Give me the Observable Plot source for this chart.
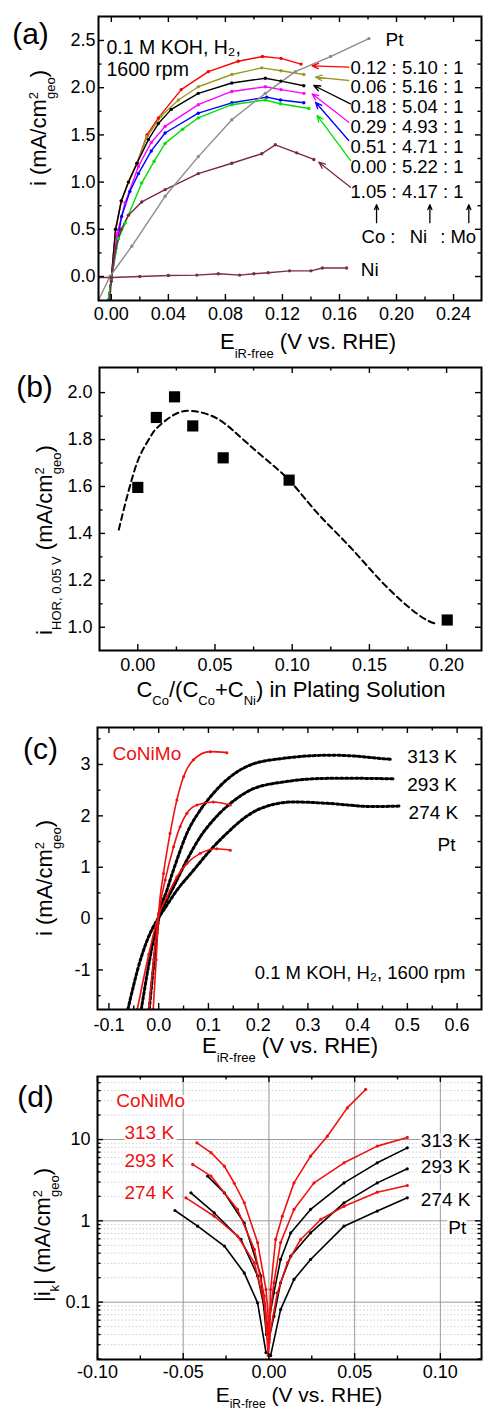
<!DOCTYPE html>
<html><head><meta charset="utf-8">
<script src="https://cdn.jsdelivr.net/npm/d3@7"></script>
<script src="https://cdn.jsdelivr.net/npm/@observablehq/plot@0.6"></script>
<style>
html,body{margin:0;padding:0;background:#fff;overflow:hidden;}
#wrap{width:483px;}
#wrap svg{display:block;overflow:visible;}
</style></head><body><div id="wrap"></div>
<script>
// ---------------- Panel (a) data ----------------
const aNames = ["0.12 : 5.10 : 1","0.06 : 5.16 : 1","0.18 : 5.04 : 1","0.29 : 4.93 : 1","0.51 : 4.71 : 1","0.00 : 5.22 : 1","1.05 : 4.17 : 1","Pt","Ni"];
const aColors = ["#ff0000","#9a9a22","#000000","#ff00ff","#0000ff","#00e000","#7a2a3e","#8c8c8c","#7b2d4a"];
const a_012 = [[-0.002,-0.25],[0.0,-0.02],[0.003,0.5],[0.007,0.8],[0.012,1.0],[0.018,1.2],[0.025,1.5],[0.033,1.68],[0.049,1.98],[0.068,2.17],[0.089,2.28],[0.106,2.33],[0.119,2.31],[0.133,2.25]];
const a_006 = [[-0.002,-0.25],[0.0,-0.02],[0.003,0.5],[0.007,0.8],[0.012,1.0],[0.018,1.2],[0.025,1.48],[0.035,1.7],[0.047,1.87],[0.061,2.01],[0.0845,2.14],[0.1055,2.21],[0.119,2.18],[0.135,2.14]];
const a_018 = [[-0.002,-0.25],[0.0,-0.02],[0.003,0.5],[0.007,0.8],[0.012,1.0],[0.018,1.2],[0.026,1.45],[0.033,1.62],[0.042,1.77],[0.061,1.94],[0.0845,2.05],[0.108,2.10],[0.119,2.07],[0.135,2.02]];
const a_029 = [[-0.002,-0.25],[0.0,-0.02],[0.004,0.45],[0.0096,0.78],[0.019,1.165],[0.028,1.42],[0.0377,1.59],[0.061,1.82],[0.0845,1.96],[0.108,2.01],[0.119,1.98],[0.135,1.94]];
const a_051 = [[-0.002,-0.25],[0.0,-0.02],[0.0072,0.636],[0.013,0.9],[0.019,1.09],[0.028,1.33],[0.0377,1.52],[0.061,1.73],[0.0845,1.84],[0.109,1.90],[0.1186,1.87],[0.135,1.84]];
const a_000 = [[-0.002,-0.25],[0.0,-0.02],[0.005,0.4],[0.0096,0.565],[0.0213,0.99],[0.03,1.22],[0.0377,1.41],[0.05,1.56],[0.061,1.68],[0.0845,1.82],[0.108,1.87],[0.1186,1.83],[0.1385,1.78]];
const a_105 = [[-0.001,-0.25],[0.0,-0.05],[0.003,0.3],[0.007,0.5],[0.012,0.65],[0.0213,0.79],[0.0377,0.92],[0.061,1.09],[0.0845,1.20],[0.1055,1.30],[0.115,1.395],[0.13,1.31],[0.142,1.24]];
const a_pt = [[-0.009,-0.25],[-0.001,0.0],[0.0143,0.32],[0.0377,0.85],[0.061,1.27],[0.0845,1.66],[0.108,1.94],[0.129,2.17],[0.1537,2.33],[0.1806,2.52]];
const a_ni = [[-0.009,-0.01],[0.0,-0.01],[0.02,0.0],[0.04,0.01],[0.06,0.015],[0.075,0.03],[0.09,0.015],[0.1,0.03],[0.11,0.04],[0.125,0.06],[0.14,0.06],[0.148,0.09],[0.165,0.09]];
const aCurves = [a_012,a_006,a_018,a_029,a_051,a_000,a_105,a_pt,a_ni];
const aLabelY = [2.21,2.005,1.793,1.58,1.37,1.158,0.893];
const aLabelX = 0.1677;
const aArrX1 = [0.1665,0.1665,0.1677,0.1665,0.1665,0.1677,0.1677];
const aArrY1 = [2.217,2.076,1.829,1.634,1.441,1.229,0.946];
const aArrX2 = [0.1408,0.1432,0.142,0.1408,0.1432,0.1443,0.1455];
const aArrY2 = [2.232,2.111,2.023,1.935,1.846,1.706,1.211];
const aElemX = [0.186,0.2234,0.2507];
const aElemText = ["Co :","Ni",": Mo"];
const aElemTextX = [0.1874,0.2154,0.2432];
const aXTicks = [0,0.04,0.08,0.12,0.16,0.20,0.24];
const aXMinor = [0.02,0.06,0.10,0.14,0.18,0.22];
const aYTicks = [0,0.5,1.0,1.5,2.0,2.5];
const aYMinor = [0.25,0.75,1.25,1.75,2.25];

// ---------------- Panel (b) data ----------------
const bX = [0,0.012,0.0238,0.0356,0.0553,0.098,0.2004];
const bY = [1.596,1.894,1.982,1.858,1.722,1.627,1.031];
const bFitX = [-0.0123,-0.008,-0.003,0.002,0.008,0.0125,0.0233,0.035,0.0492,0.062,0.0795,0.098,0.116,0.1378,0.1594,0.181,0.1928];
const bFitY = [1.416,1.53,1.65,1.74,1.81,1.85,1.905,1.922,1.897,1.837,1.735,1.627,1.489,1.34,1.184,1.057,1.015];
const bXTicks = [0,0.05,0.10,0.15,0.20];
const bXMinor = [0.025,0.075,0.125,0.175];
const bYTicks = [1.0,1.2,1.4,1.6,1.8,2.0];
const bYMinor = [1.1,1.3,1.5,1.7,1.9];

// ---------------- Panel (c) data ----------------
const cPt313 = [[-0.019,-1.77],[-0.01,-0.9],[0,0],[0.0165,0.55],[0.0366,1.14],[0.0567,1.66],[0.0835,2.11],[0.110,2.44],[0.144,2.76],[0.184,2.99],[0.251,3.12],[0.345,3.18],[0.385,3.17],[0.432,3.13],[0.466,3.1]];
const cPt293 = [[-0.035,-1.77],[-0.02,-0.9],[-0.008,-0.3],[0,0],[0.0097,0.23],[0.030,0.62],[0.0567,1.14],[0.0835,1.59],[0.110,1.92],[0.144,2.24],[0.184,2.50],[0.251,2.66],[0.345,2.73],[0.40,2.73],[0.472,2.72]];
const cPt274 = [[-0.062,-1.77],[-0.035,-0.75],[-0.0145,-0.23],[0,0.02],[0.0097,0.16],[0.0366,0.55],[0.070,0.94],[0.1036,1.33],[0.137,1.66],[0.171,1.95],[0.204,2.14],[0.271,2.27],[0.345,2.24],[0.43,2.18],[0.483,2.19]];
const cCo313 = [[-0.011,-1.77],[-0.005,-0.8],[0,0.1],[0.0097,0.88],[0.023,1.66],[0.0366,2.31],[0.050,2.76],[0.070,3.09],[0.1036,3.25],[0.137,3.23]];
const cCo293 = [[-0.02,-1.77],[-0.01,-0.8],[0,0.1],[0.013,0.75],[0.030,1.40],[0.043,1.79],[0.0567,2.05],[0.077,2.21],[0.110,2.27],[0.144,2.21]];
const cCo274 = [[-0.043,-1.77],[-0.02,-0.7],[0,0.07],[0.0165,0.42],[0.0366,0.81],[0.0567,1.07],[0.0835,1.27],[0.117,1.36],[0.144,1.33]];
const cLabels = ["313 K","293 K","274 K","Pt"];
const cLabelX = [0.5497,0.5497,0.5523,0.5785];
const cLabelY = [3.15,2.61,2.05,1.43];
const cXTicks = [-0.1,0,0.1,0.2,0.3,0.4,0.5,0.6];
const cXMinor = [-0.05,0.05,0.15,0.25,0.35,0.45,0.55];
const cYTicks = [-1,0,1,2,3];
const cYMinor = [-1.5,-0.5,0.5,1.5,2.5,3.5];

// ---------------- Panel (d) data ----------------
const dCo313 = [[-0.042,9.1],[-0.0338,6.9],[-0.026,4.7],[-0.0202,2.9],[-0.0144,1.67],[-0.0066,0.54],[-0.0017,0.143],[0.0002,0.046],[0.001,0.143],[0.0039,0.59],[0.0078,1.14],[0.0146,2.93],[0.0243,6.25],[0.0341,11],[0.0457,24.5],[0.0564,41.3]];
const dCo293 = [[-0.0445,4.94],[-0.0338,3.55],[-0.0183,1.38],[-0.0085,0.445],[-0.0027,0.119],[0.0,0.032],[0.001,0.081],[0.0029,0.173],[0.0068,0.54],[0.0146,1.38],[0.0263,2.93],[0.0438,5.17],[0.0632,8.3],[0.0807,10.6]];
const dCo274 = [[-0.0484,1.92],[-0.0319,1.14],[-0.0183,0.65],[-0.0085,0.304],[-0.0027,0.098],[-0.0004,0.022],[0.001,0.046],[0.0049,0.13],[0.0107,0.304],[0.0185,0.59],[0.0302,1.04],[0.0438,1.51],[0.0632,2.25],[0.0807,2.72]];
const dPt313 = [[-0.0358,3.55],[-0.026,2.21],[-0.0144,0.94],[-0.0047,0.21],[-0.0015,0.04],[0.0029,0.13],[0.0068,0.335],[0.0127,0.71],[0.0243,1.38],[0.0438,2.93],[0.0632,5.17],[0.0807,7.9]];
const dPt293 = [[-0.0455,2.21],[-0.0319,1.25],[-0.0163,0.59],[-0.0066,0.21],[-0.0017,0.067],[0.0,0.035],[0.0029,0.067],[0.0068,0.173],[0.0127,0.368],[0.0243,0.71],[0.0438,1.66],[0.0632,2.93],[0.0807,4.36]];
const dPt274 = [[-0.0548,1.34],[-0.0416,0.86],[-0.026,0.49],[-0.0144,0.229],[-0.0066,0.098],[-0.0017,0.024],[0.001,0.022],[0.0068,0.081],[0.0146,0.19],[0.0243,0.335],[0.0438,0.86],[0.0632,1.32],[0.0807,1.92]];
const dRedLabels = ["CoNiMo","313 K","293 K","274 K"];
const dRedX = [-0.069,-0.0698,-0.0698,-0.0698];
const dRedY = [29.7,12.1,5.42,2.21];
const dBlackLabels = ["313 K","293 K","274 K","Pt"];
const dBlackX = [0.1031,0.1031,0.1031,0.1099];
const dBlackY = [9.56,4.61,1.83,0.82];
const dXTicks = [-0.10,-0.05,0,0.05,0.10];
const dXMinor = [-0.075,-0.025,0.025,0.075];
const dYTicks = [0.1,1,10];
const dYMinor = [0.02,0.03,0.04,0.05,0.06,0.07,0.08,0.09,0.2,0.3,0.4,0.5,0.6,0.7,0.8,0.9,2,3,4,5,6,7,8,9,20,30,40,50];

// ---------------- helpers ----------------
const FONT = "'Liberation Sans', Arial, Helvetica, sans-serif";
const W = 483;
const RED = "#ee1111";
const wrap = document.getElementById("wrap");
const style = () => ({fontFamily: FONT, fontSize: "18px", overflow: "visible", background: "transparent", color: "black"});
const rows = (curves, names) => curves.flatMap((c, k) => c.map(([x, y]) => ({name: names[k], x, y})));

function frameTicks(xMaj, xMin, yMaj, yMin, fw, fh) {
  const L = 6, l = 3.5, sw = 1.4;
  return [
    Plot.tickX(xMaj, {x: d => d, insetTop: fh - L, strokeWidth: sw}),
    Plot.tickX(xMaj, {x: d => d, insetBottom: fh - L, strokeWidth: sw}),
    Plot.tickX(xMin, {x: d => d, insetTop: fh - l, strokeWidth: sw}),
    Plot.tickX(xMin, {x: d => d, insetBottom: fh - l, strokeWidth: sw}),
    Plot.tickY(yMaj, {y: d => d, insetRight: fw - L, strokeWidth: sw}),
    Plot.tickY(yMaj, {y: d => d, insetLeft: fw - L, strokeWidth: sw}),
    Plot.tickY(yMin, {y: d => d, insetRight: fw - l, strokeWidth: sw}),
    Plot.tickY(yMin, {y: d => d, insetLeft: fw - l, strokeWidth: sw})
  ];
}
function panelLetter(t, dx, dy) {
  return Plot.text([t], {frameAnchor: "top-left", dx, dy, fontSize: 30, textAnchor: "middle"});
}
function rich(svg, x, y, parts, rotate, size = 22, subShift = 0.4) {
  const t = d3.select(svg).append("text")
    .attr("transform", `translate(${x},${y})` + (rotate ? " rotate(-90)" : ""))
    .attr("text-anchor", "middle").attr("font-family", FONT)
    .attr("font-size", size).attr("fill", "black").style("white-space", "pre");
  let cur = 0;
  for (const [s, kind, dx] of parts) {
    const fs = kind ? Math.round(size * 0.57) : size;
    const target = kind === "sub" ? size * subShift : kind === "sup" ? -size * 0.36 : 0;
    const ts = t.append("tspan").attr("font-size", fs).attr("dy", target - cur).text(s);
    if (dx) ts.attr("dx", dx);
    cur = target;
  }
}
const geoParts = [["2", "sup"], ["geo", "sub", -7], [")"]];

// ---------------- Panel (a) ----------------
{
  const mL = 98, mR = 2, mT = 16, mB = 50, H = 350;
  const fw = W - mL - mR, fh = H - mT - mB;
  const data = rows(aCurves, aNames);
  const arrows = aArrX1.map((x1, k) => ({x1, y1: aArrY1[k], x2: aArrX2[k], y2: aArrY2[k], name: aNames[k]}));
  const labels = aLabelY.map((y, k) => ({y, t: aNames[k]}));
  const svg = Plot.plot({
    width: W, height: H, marginLeft: mL, marginRight: mR, marginTop: mT, marginBottom: mB,
    style: style(),
    x: {domain: [-0.009, 0.2596], ticks: aXTicks, tickFormat: d => d.toFixed(2), tickSize: 0, tickPadding: 7, label: null},
    y: {domain: [-0.254, 2.754], ticks: aYTicks, tickFormat: d => d.toFixed(1), tickSize: 0, tickPadding: 3, label: null},
    color: {domain: aNames, range: aColors},
    marks: [
      Plot.line(data, {x: "x", y: "y", z: "name", stroke: "name", strokeWidth: 1.4, clip: true}),
      Plot.dot(data, {x: "x", y: "y", fill: "name", r: 1.7, clip: true}),
      Plot.arrow(arrows, {x1: "x1", y1: "y1", x2: "x2", y2: "y2", stroke: "name", strokeWidth: 1.3, headLength: 8, headAngle: 45}),
      Plot.text(labels, {x: () => aLabelX, y: "y", text: "t", textAnchor: "start", fontSize: 18.5}),
      Plot.arrow(aElemX, {x1: d => d, x2: d => d, y1: () => 0.57, y2: () => 0.76, strokeWidth: 1.3, headLength: 6, headAngle: 45}),
      Plot.text(aElemText, {x: (d, i) => aElemTextX[i], y: () => 0.416, text: d => d, fontSize: 18.5}),
      Plot.text(["Pt"], {x: () => 0.1986, y: () => 2.507, fontSize: 19}),
      Plot.text(["Ni"], {x: () => 0.1812, y: () => 0.071, fontSize: 19}),
      Plot.text(["0.1 M KOH, H\u2082,"], {frameAnchor: "top-left", dx: 8, dy: 24, textAnchor: "start", fontSize: 19.5}),
      Plot.text(["1600 rpm"], {frameAnchor: "top-left", dx: 8, dy: 46, textAnchor: "start", fontSize: 19.5}),
      ...frameTicks(aXTicks, aXMinor, aYTicks, aYMinor, fw, fh),
      Plot.frame({strokeWidth: 2}),
      panelLetter("(a)", -68, 6)
    ]
  });
  wrap.appendChild(svg);
  rich(svg, 308, 349, [["E"], ["iR-free", "sub"], [" (V vs. RHE)"]], false);
  rich(svg, 46, 128, [["i (mA/cm"], ...geoParts], true);
}

// ---------------- Panel (b) ----------------
{
  const mL = 99, mR = 2, mT = 17, mB = 55, H = 355;
  const fw = W - mL - mR, fh = H - mT - mB;
  const svg = Plot.plot({
    width: W, height: H, marginLeft: mL, marginRight: mR, marginTop: mT, marginBottom: mB,
    style: style(),
    x: {domain: [-0.0248, 0.2226], ticks: bXTicks, tickFormat: d => d.toFixed(2), tickSize: 0, tickPadding: 8, label: null},
    y: {domain: [0.901, 2.107], ticks: bYTicks, tickFormat: d => d.toFixed(1), tickSize: 0, tickPadding: 7, label: null},
    marks: [
      Plot.line(bFitX, {x: d => d, y: (d, i) => bFitY[i], curve: "natural", strokeWidth: 2, strokeDasharray: "6,4"}),
      Plot.dot(bX, {x: d => d, y: (d, i) => bY[i], symbol: "square", r: 6.3, fill: "black"}),
      ...frameTicks(bXTicks, bXMinor, bYTicks, bYMinor, fw, fh),
      Plot.frame({strokeWidth: 2}),
      panelLetter("(b)", -65, 8)
    ]
  });
  wrap.appendChild(svg);
  rich(svg, 291, 346.5, [["C"], ["Co", "sub"], ["/(C"], ["Co", "sub"], ["+C"], ["Ni", "sub"], [") in Plating Solution"]], false);
  rich(svg, 52, 190, [["i"], ["HOR, 0.05 V", "sub"], [" (mA/cm"], ...geoParts], true);
}

// ---------------- Panel (c) ----------------
{
  const mL = 97, mR = 2, mT = 22, mB = 51, H = 355;
  const fw = W - mL - mR, fh = H - mT - mB;
  const ptNames = ["Pt 313", "Pt 293", "Pt 274"], coNames = ["Co 313", "Co 293", "Co 274"];
  const pt = rows([cPt313, cPt293, cPt274], ptNames);
  const co = rows([cCo313, cCo293, cCo274], coNames);
  const svg = Plot.plot({
    width: W, height: H, marginLeft: mL, marginRight: mR, marginTop: mT, marginBottom: mB,
    style: style(),
    x: {domain: [-0.123, 0.649], ticks: cXTicks, tickFormat: d => d.toFixed(1), tickSize: 0, tickPadding: 9, label: null},
    y: {domain: [-1.77, 3.72], ticks: cYTicks, tickFormat: d => String(d), tickSize: 0, tickPadding: 7, label: null},
    marks: [
      Plot.line(pt, {x: "x", y: "y", z: "name", stroke: "black", strokeWidth: 3, strokeDasharray: "2.5,2.5", curve: "monotone-x", clip: true}),
      Plot.line(co, {x: "x", y: "y", z: "name", stroke: RED, strokeWidth: 1.6, curve: "monotone-x", clip: true}),
      Plot.dot(co, {x: "x", y: "y", fill: RED, r: 1.5, clip: true}),
      Plot.text(["CoNiMo"], {x: () => -0.0237, y: () => 3.2, fill: RED, fontSize: 19}),
      Plot.text(cLabels, {x: (d, i) => cLabelX[i], y: (d, i) => cLabelY[i], text: d => d, fontSize: 19}),
      Plot.text(["0.1 M KOH, H\u2082, 1600 rpm"], {frameAnchor: "bottom-right", dx: -16, dy: -31, textAnchor: "end", fontSize: 18.5}),
      ...frameTicks(cXTicks, cXMinor, cYTicks, cYMinor, fw, fh),
      Plot.frame({strokeWidth: 2}),
      panelLetter("(c)", -57, 10)
    ]
  });
  wrap.appendChild(svg);
  rich(svg, 290, 348, [["E"], ["iR-free", "sub"], [" (V vs. RHE)"]], false);
  rich(svg, 52, 173, [["i (mA/cm"], ...geoParts], true);
}

// ---------------- Panel (d) ----------------
{
  const mL = 97, mR = 2, mT = 16, mB = 53, H = 352;
  const fw = W - mL - mR, fh = H - mT - mB;
  const ptNames = ["Pt 313", "Pt 293", "Pt 274"], coNames = ["Co 313", "Co 293", "Co 274"];
  const pt = rows([dPt313, dPt293, dPt274], ptNames);
  const co = rows([dCo313, dCo293, dCo274], coNames);
  const svg = Plot.plot({
    width: W, height: H, marginLeft: mL, marginRight: mR, marginTop: mT, marginBottom: mB,
    style: style(),
    x: {domain: [-0.1, 0.124], ticks: dXTicks, tickFormat: d => d.toFixed(2), tickSize: 0, tickPadding: 6, label: null},
    y: {type: "log", domain: [0.0197, 59.6], ticks: dYTicks, tickFormat: d => String(d), tickSize: 0, tickPadding: 7, label: null},
    marks: [
      Plot.ruleY(dYMinor, {y: d => d, stroke: "#c4c4c4", strokeWidth: 0.8, strokeDasharray: "1.5,2"}),
      Plot.ruleX(dXTicks, {x: d => d, stroke: "#9a9a9a", strokeWidth: 1}),
      Plot.ruleY(dYTicks, {y: d => d, stroke: "#9a9a9a", strokeWidth: 1}),
      Plot.line(pt, {x: "x", y: "y", z: "name", stroke: "black", strokeWidth: 1.6, clip: true}),
      Plot.dot(pt, {x: "x", y: "y", fill: "black", r: 1.6, clip: true}),
      Plot.line(co, {x: "x", y: "y", z: "name", stroke: RED, strokeWidth: 1.6, clip: true}),
      Plot.dot(co, {x: "x", y: "y", fill: RED, r: 1.6, clip: true}),
      Plot.text(dRedLabels, {x: (d, i) => dRedX[i], y: (d, i) => dRedY[i], text: d => d, fill: RED, fontSize: 19, stroke: "white", strokeWidth: 5}),
      Plot.text(dBlackLabels, {x: (d, i) => dBlackX[i], y: (d, i) => dBlackY[i], text: d => d, fill: "black", fontSize: 19, stroke: "white", strokeWidth: 5}),
      ...frameTicks(dXTicks, dXMinor, dYTicks, dYMinor, fw, fh),
      Plot.frame({strokeWidth: 2}),
      panelLetter("(d)", -62, 9)
    ]
  });
  wrap.appendChild(svg);
  rich(svg, 299, 342, [["E"], ["iR-free", "sub"], [" (V vs. RHE)"]], false, 21, 0.27);
  rich(svg, 50, 175, [["|i"], ["k", "sub"], ["| (mA/cm"], ...geoParts], true);
}
</script></body></html>
